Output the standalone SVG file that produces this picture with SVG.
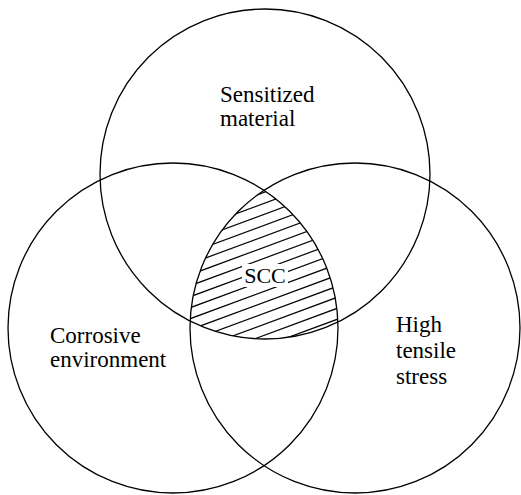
<svg xmlns="http://www.w3.org/2000/svg" width="521" height="495" viewBox="0 0 521 495">
<style>
.c{fill:none;stroke:#000;stroke-width:1.3}
.h line{stroke:#000;stroke-width:1.2}
text{font-family:"Liberation Serif","Times New Roman",serif;font-size:23px;fill:#000}
</style>
<defs>
<clipPath id="cT"><circle cx="265" cy="174" r="165"/></clipPath>
<clipPath id="cL"><circle cx="173" cy="328" r="165"/></clipPath>
<clipPath id="cR"><circle cx="355" cy="328" r="165"/></clipPath>
</defs>
<rect width="521" height="495" fill="#fff"/>
<g id="scc">
<g clip-path="url(#cT)"><g clip-path="url(#cL)"><g clip-path="url(#cR)" class="h">
<line x1="185" y1="210.6" x2="345" y2="151.4"/>
<line x1="185" y1="221.6" x2="345" y2="162.4"/>
<line x1="185" y1="232.6" x2="345" y2="173.4"/>
<line x1="185" y1="243.6" x2="345" y2="184.4"/>
<line x1="185" y1="254.6" x2="345" y2="195.4"/>
<line x1="185" y1="265.6" x2="345" y2="206.4"/>
<line x1="185" y1="276.6" x2="345" y2="217.4"/>
<line x1="185" y1="287.6" x2="345" y2="228.4"/>
<line x1="185" y1="298.6" x2="345" y2="239.4"/>
<line x1="185" y1="309.6" x2="345" y2="250.4"/>
<line x1="185" y1="320.6" x2="345" y2="261.4"/>
<line x1="185" y1="331.6" x2="345" y2="272.4"/>
<line x1="185" y1="342.6" x2="345" y2="283.4"/>
<line x1="185" y1="353.6" x2="345" y2="294.4"/>
<line x1="185" y1="364.6" x2="345" y2="305.4"/>
<line x1="185" y1="375.6" x2="345" y2="316.4"/>
<line x1="185" y1="386.6" x2="345" y2="327.4"/>
<line x1="185" y1="397.6" x2="345" y2="338.4"/>
</g></g></g>
<rect x="242" y="264" width="46" height="23" fill="#fff"/>
<text x="265" y="283" text-anchor="middle" style="font-size:22px">SCC</text>
</g>
<g id="sensitized">
<circle class="c" cx="265" cy="174" r="165"/>
<text x="220" y="102">Sensitized</text>
<text x="220" y="126">material</text>
</g>
<g id="corrosive">
<circle class="c" cx="173" cy="328" r="165"/>
<text x="50" y="343">Corrosive</text>
<text x="50" y="367">environment</text>
</g>
<g id="stress">
<circle class="c" cx="355" cy="328" r="165"/>
<text x="396" y="332">High</text>
<text x="396" y="358">tensile</text>
<text x="396" y="384">stress</text>
</g>
<g id="connectors"/>
</svg>
